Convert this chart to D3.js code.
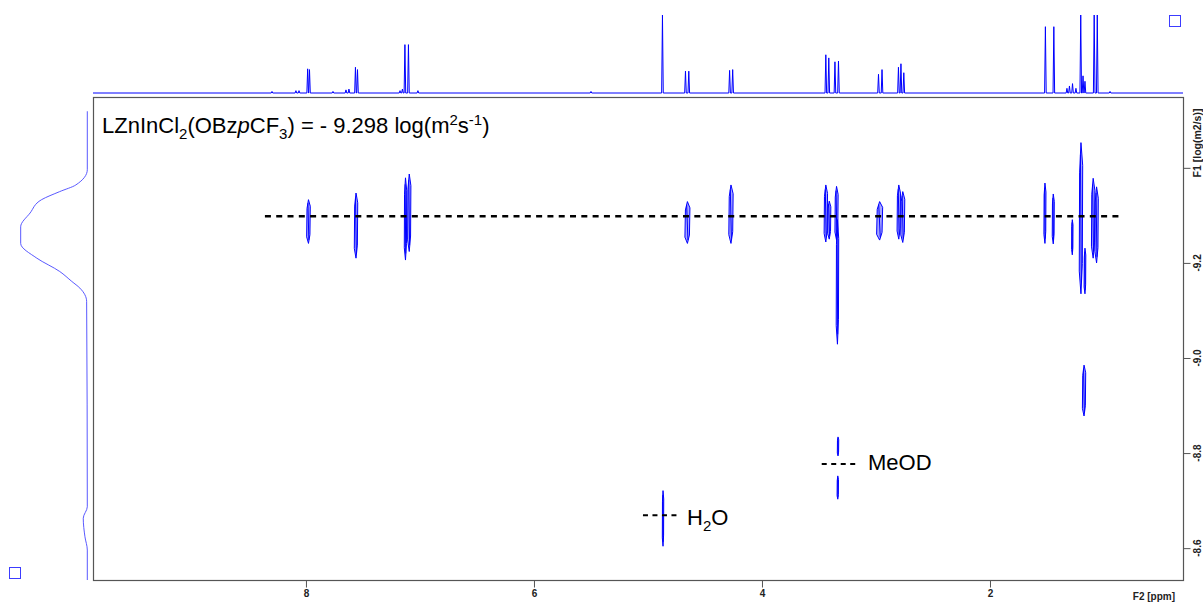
<!DOCTYPE html>
<html><head><meta charset="utf-8">
<script src="https://cdn.jsdelivr.net/npm/d3@7"></script>
<style>
html,body{margin:0;padding:0;background:#fff;}
svg{display:block;font-family:Arial,"Liberation Sans",sans-serif;}
</style></head><body>
<svg id="chart" width="1203" height="606"></svg>
<script>
// ---- DOSY cross peaks: 1H shift (ppm), log D extent, spectral width (ppm)
const peakPpm    = [7.978, 7.561, 7.127, 7.094, 4.654, 4.272, 3.44, 3.41, 3.346, 3.338, 2.968, 2.80, 2.765, 1.518, 1.445, 1.278, 1.202, 1.167, 1.095, 1.065, 1.175];
const peakTop    = [-9.333, -9.347, -9.379, -9.387, -9.329, -9.364, -9.364, -9.33, -9.361, -9.291, -9.329, -9.364, -9.35, -9.368, -9.345, -9.291, -9.453, -9.231, -9.378, -9.36, -8.985];
const peakBottom = [-9.241, -9.210, -9.206, -9.224, -9.241, -9.241, -9.244, -9.25, -9.248, -9.029, -9.248, -9.25, -9.243, -9.241, -9.240, -9.217, -9.135, -9.135, -9.21, -9.20, -8.878];
const peakWidth  = [0.032, 0.030, 0.021, 0.029, 0.044, 0.038, 0.03, 0.028, 0.028, 0.022, 0.053, 0.03, 0.035, 0.018, 0.018, 0.012, 0.030, 0.015, 0.03, 0.03, 0.029];

// solvent cross peaks
const solventPpm    = [3.333, 3.335, 4.868];
const solventTop    = [-8.834, -8.752, -8.721];
const solventBottom = [-8.794, -8.703, -8.604];

// fitted diffusion coefficient of the complex and the solvent markers
const complexLogD = -9.298;
const complexSpan = [8.36, 0.86];
const solventNames = ["MeOD", "H2O"];
const solventLogD  = [-8.777, -8.669];
const solventSpanFrom = [3.476, 5.044];
const solventSpanTo   = [3.149, 4.728];

// ---- 1D 1H spectrum on top: line positions (ppm) and relative heights
const specPpm = [8.298, 8.088, 8.061, 7.985, 7.969, 7.763, 7.649, 7.623, 7.566, 7.548, 7.175, 7.154, 7.132, 7.101, 7.018, 5.5,
                 4.873, 4.671, 4.642, 4.284, 4.257, 3.440, 3.414, 3.360, 3.329, 2.978, 2.947, 2.803, 2.781, 2.756,
                 1.514, 1.440, 1.325, 1.303, 1.276, 1.246, 1.204, 1.184, 1.167, 1.086, 1.059, 0.947];
const specHeight = [0.02, 0.03, 0.03, 0.31, 0.30, 0.02, 0.04, 0.05, 0.33, 0.30, 0.03, 0.05, 0.62, 0.62, 0.03, 0.02,
                    1.0, 0.28, 0.28, 0.29, 0.30, 0.49, 0.45, 0.40, 0.41, 0.24, 0.30, 0.33, 0.375, 0.26,
                    0.85, 0.85, 0.06, 0.09, 0.12, 0.06, 1.0, 0.22, 0.15, 1.0, 1.0, 0.02];

// ---- diffusion projection on the left
const projLogD = [-9.519, -9.396, -9.364, -9.350, -9.333, -9.305, -9.276, -9.241, -9.210, -9.182, -9.161, -9.147, -9.119, -8.687, -8.663, -8.624, -8.596, -8.533];
const projIntensity = [0, 0, 0.17, 0.41, 0.68, 0.85, 0.99, 0.99, 0.75, 0.41, 0.23, 0.11, 0.01, 0, 0.06, 0.035, 0, 0];

// ---- axes
const f2Major = [8, 6, 4, 2];
const f2Minor = [9.5, 9, 8.5, 7.5, 7, 6.5, 5.5, 5, 4.5, 3.5, 3, 2.5, 1.5, 1, 0.5];
const f1Major = [-9.4, -9.2, -9.0, -8.8, -8.6];
const f1Labeled = [-9.2, -9.0, -8.8, -8.6];
const f1Minor = [-9.5333, -9.4667, -9.3333, -9.2667, -9.1333, -9.0667, -8.9333, -8.8667, -8.7333, -8.6667, -8.5333];
const f2Title = "F2 [ppm]";
const f1Title = "F1 [log(m2/s)]";

const svg = d3.select("#chart");
const L = 93, R = 1183, T = 97, B = 580;
const x = d3.scaleLinear().domain([9.868, 0.307]).range([L, R]);
const y = d3.scaleLinear().domain([-9.549, -8.533]).range([T, B]);
const ySpec = d3.scaleLinear().domain([0, 1]).range([93, 15]).clamp(true);
const xProj = d3.scaleLinear().domain([0, 1]).range([87.3, 20]);
const blue = "#0000ff";

// frame
svg.append("rect").attr("x", L + 0.5).attr("y", T + 0.5).attr("width", R - L).attr("height", B - T)
  .attr("fill", "none").attr("stroke", "#555").attr("stroke-width", 1.2);

// x axis
const gx = svg.append("g").attr("transform", `translate(0,${B + 0.5})`);
gx.call(d3.axisBottom(x).tickValues(f2Minor).tickSize(4).tickFormat(""));
gx.call(d3.axisBottom(x).tickValues(f2Major).tickSize(7).tickFormat(d3.format("d")));
gx.selectAll(".domain").remove();
gx.selectAll("line").attr("stroke", "#555");
gx.selectAll("text").attr("font-size", 10).attr("font-weight", "bold").attr("fill", "#222")
  .attr("font-family", "Arial, Liberation Sans, sans-serif").attr("dy", "0.6em").attr("y", 10);
svg.append("text").attr("x", 1175).attr("y", 600).attr("text-anchor", "end")
  .attr("font-size", 10).attr("font-weight", "bold").attr("fill", "#222").text(f2Title);

// y axis
const gy = svg.append("g").attr("transform", `translate(${R + 0.5},0)`);
gy.call(d3.axisRight(y).tickValues(f1Minor).tickSize(4).tickFormat(""));
gy.call(d3.axisRight(y).tickValues(f1Major).tickSize(7).tickFormat(""));
gy.selectAll(".domain").remove();
gy.selectAll("line").attr("stroke", "#555");
svg.append("g").selectAll("text").data(f1Labeled).join("text")
  .attr("transform", d => `translate(1200.5,${y(d)}) rotate(-90)`)
  .attr("text-anchor", "middle").attr("font-size", 10).attr("font-weight", "bold").attr("fill", "#222")
  .text(d => d.toFixed(1));
svg.append("text").attr("transform", `translate(1200.5,143) rotate(-90)`)
  .attr("text-anchor", "middle").attr("font-size", 10.5).attr("font-weight", "bold").attr("fill", "#222")
  .text(f1Title);

// 1D spectrum
const specPts = [[x.domain()[0], 0]];
d3.range(specPpm.length).map(i => [specPpm[i], specHeight[i]])
  .sort((a, b) => b[0] - a[0])
  .forEach(([p, h]) => { specPts.push([p + 0.007, 0], [p, h], [p - 0.007, 0]); });
specPts.push([x.domain()[1], 0]);
svg.append("path").attr("d", d3.line().x(d => x(d[0])).y(d => ySpec(d[1]))(specPts))
  .attr("fill", "none").attr("stroke", blue).attr("stroke-width", 1);

// diffusion projection
svg.append("path").attr("d", d3.line().curve(d3.curveMonotoneY).x((d, i) => xProj(projIntensity[i])).y(d => y(d))(projLogD))
  .attr("fill", "none").attr("stroke", "#4646ff").attr("stroke-width", 0.9);

// little view markers
svg.append("rect").attr("x", 9.5).attr("y", 567.5).attr("width", 11).attr("height", 11)
  .attr("fill", "none").attr("stroke", "#3c3cff").attr("stroke-width", 1);
svg.append("rect").attr("x", 1169.5).attr("y", 15.5).attr("width", 11).attr("height", 11)
  .attr("fill", "none").attr("stroke", "#3c3cff").attr("stroke-width", 1);

// cross peaks drawn as narrow contour outlines
const gPeaks = svg.append("g");
function contour(ppm, top, bottom, w) {
  const xc = x(ppm), hw = Math.max(0.7, Math.abs(x(ppm + w / 2) - xc));
  const y0 = y(top), y1 = y(bottom), len = y1 - y0;
  const outer = `M${xc},${y0} L${xc + hw},${y0 + 0.15 * len} L${xc + hw * 0.8},${y1 - 0.2 * len} L${xc},${y1} L${xc - hw},${y1 - 0.15 * len} L${xc - hw * 0.8},${y0 + 0.2 * len} Z`;
  gPeaks.append("path").attr("d", outer).attr("fill", "rgba(0,0,255,0.35)").attr("stroke", blue).attr("stroke-width", 1);
  gPeaks.append("path").attr("d", `M${xc - hw * 0.3},${y0 + 0.08 * len} L${xc + hw * 0.2},${y1 - 0.08 * len}`)
    .attr("stroke", blue).attr("stroke-width", 1);
}
peakPpm.forEach((p, i) => contour(p, peakTop[i], peakBottom[i], peakWidth[i]));
solventPpm.forEach((p, i) => contour(p, solventTop[i], solventBottom[i], 0.012));

// diffusion markers
svg.append("line").attr("x1", x(complexSpan[0])).attr("x2", x(complexSpan[1]))
  .attr("y1", y(complexLogD)).attr("y2", y(complexLogD))
  .attr("stroke", "#000").attr("stroke-width", 2.6).attr("stroke-dasharray", "6,5.3");
solventLogD.forEach((v, i) => {
  svg.append("line").attr("x1", x(solventSpanFrom[i])).attr("x2", x(solventSpanTo[i]))
    .attr("y1", y(v)).attr("y2", y(v))
    .attr("stroke", "#000").attr("stroke-width", 2).attr("stroke-dasharray", "5,4.5");
});

// labels
const fs = 22, fsSub = 15;
const title = svg.append("text").attr("x", 102).attr("y", 133).attr("font-size", fs).attr("fill", "#000");
title.append("tspan").text("LZnInCl");
title.append("tspan").attr("font-size", fsSub).attr("dy", 6).text("2");
title.append("tspan").attr("dy", -6).text("(OBz");
title.append("tspan").attr("font-style", "italic").text("p");
title.append("tspan").text("CF");
title.append("tspan").attr("font-size", fsSub).attr("dy", 6).text("3");
title.append("tspan").attr("dy", -6).text(") = - " + (complexLogD * -1).toFixed(3) + " log(m");
title.append("tspan").attr("font-size", fsSub).attr("dy", -8).text("2");
title.append("tspan").attr("dy", 8).text("s");
title.append("tspan").attr("font-size", fsSub).attr("dy", -8).text("-1");
title.append("tspan").attr("dy", 8).text(")");

svg.append("text").attr("x", x(solventSpanTo[0]) + 9).attr("y", y(solventLogD[0]) + 6)
  .attr("font-size", fs).attr("fill", "#000").text(solventNames[0]);
const h2o = svg.append("text").attr("x", x(solventSpanTo[1]) + 8).attr("y", y(solventLogD[1]) + 9.5)
  .attr("font-size", fs).attr("fill", "#000");
h2o.append("tspan").text("H");
h2o.append("tspan").attr("font-size", fsSub).attr("dy", 6).text("2");
h2o.append("tspan").attr("dy", -6).text("O");
</script>
</body></html>
